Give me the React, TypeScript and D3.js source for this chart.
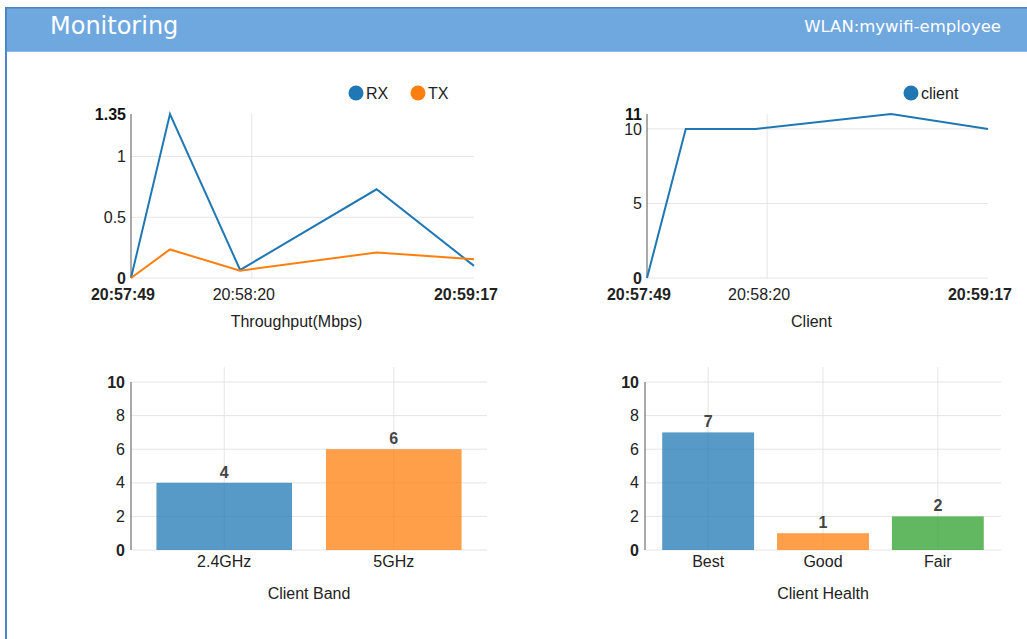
import React from "react";
import * as d3 from "d3";

// sample times (HH:MM:SS)
const times = ["20:57:49", "20:57:59", "20:58:17", "20:58:52", "20:59:17"];
const rxValues = [0, 1.35, 0.066, 0.73, 0.1];
const txValues = [0, 0.235, 0.06, 0.21, 0.155];
const clientValues = [0, 10, 10, 11, 10];

const bandCategories = ["2.4GHz", "5GHz"];
const bandValues = [4, 6];
const healthCategories = ["Best", "Good", "Fair"];
const healthValues = [7, 1, 2];

const throughputTicks = [0, 0.5, 1];
const clientTicks = [0, 5, 10];
const barTicks = [0, 2, 4, 6, 8, 10];
const midTimeTick = "20:58:20";

const BLUE = "#1f77b4";
const ORANGE = "#ff7f0e";
const GREEN = "#2ca02c";
const GRID = "#e5e5e5";
const FONT = "'Liberation Sans', Arial, sans-serif";

const parseTime = d3.timeParse("%H:%M:%S");

type Series = { name: string; color: string; values: number[] };

function LineChart({
  x0, x1, yTop, yBottom, series, ticks, maxLabel, title, legendX,
}: {
  x0: number; x1: number; yTop: number; yBottom: number;
  series: Series[]; ticks: number[]; maxLabel: number; title: string; legendX: number[];
}) {
  const dates = times.map((t) => parseTime(t) as Date);
  const x = d3.scaleTime().domain(d3.extent(dates) as [Date, Date]).range([x0, x1]);
  const y = d3.scaleLinear().domain([0, maxLabel]).range([yBottom, yTop]);
  const mid = parseTime(midTimeTick) as Date;
  const line = d3
    .line<number>()
    .x((_, i) => x(dates[i]))
    .y((d) => y(d));

  return (
    <g fontFamily={FONT}>
      {/* grid */}
      {ticks.map((t) => (
        <line key={t} x1={x0} x2={x1} y1={y(t)} y2={y(t)} stroke={GRID} />
      ))}
      <line x1={x(mid)} x2={x(mid)} y1={yTop} y2={yBottom} stroke={GRID} />
      {/* y axis */}
      <line x1={x0} x2={x0} y1={yTop} y2={yBottom} stroke="#555" />
      {ticks.map((t) => (
        <text key={t} x={x0 - 5} y={y(t)} dy="0.35em" textAnchor="end" fontSize={16}
          fill="#222" fontWeight={t === 0 ? 700 : 400}>
          {d3.format("~g")(t)}
        </text>
      ))}
      <text x={x0 - 5} y={y(maxLabel)} dy="0.35em" textAnchor="end" fontSize={16}
        fill="#111" fontWeight={700}>
        {maxLabel}
      </text>
      {/* x axis labels */}
      {[
        { d: dates[0], bold: true, label: times[0] },
        { d: mid, bold: false, label: midTimeTick },
        { d: dates[dates.length - 1], bold: true, label: times[times.length - 1] },
      ].map((t) => (
        <text key={t.label} x={x(t.d) - 8} y={yBottom + 22} textAnchor="middle" fontSize={16}
          fill="#222" fontWeight={t.bold ? 700 : 400}>
          {t.label}
        </text>
      ))}
      <text x={(x0 + x1) / 2 - 6} y={yBottom + 49} textAnchor="middle" fontSize={16} fill="#222">
        {title}
      </text>
      {/* lines */}
      {series.map((s) => (
        <path key={s.name} d={line(s.values) || ""} fill="none" stroke={s.color} strokeWidth={2} />
      ))}
      {/* legend */}
      {series.map((s, i) => (
        <g key={s.name} transform={`translate(${legendX[i]},93)`}>
          <circle r={7.5} fill={s.color} />
          <text x={10} dy="0.35em" fontSize={16} fill="#222">{s.name}</text>
        </g>
      ))}
    </g>
  );
}

function BarChart({
  x0, x1, categories, values, colors, title,
}: {
  x0: number; x1: number; categories: string[]; values: number[]; colors: string[]; title: string;
}) {
  const yTop = 382;
  const yBottom = 550;
  const x = d3.scaleBand().domain(categories).range([x0, x1]).paddingInner(0.2).paddingOuter(0.15);
  const y = d3.scaleLinear().domain([0, 10]).range([yBottom, yTop]);
  const cx = (c: string) => (x(c) as number) + x.bandwidth() / 2;
  return (
    <g fontFamily={FONT}>
      {barTicks.map((t) => (
        <line key={t} x1={x0} x2={x1} y1={y(t)} y2={y(t)} stroke={GRID} />
      ))}
      {categories.map((c) => (
        <line key={c} x1={cx(c)} x2={cx(c)} y1={yTop - 15} y2={yBottom} stroke={GRID} />
      ))}
      {categories.map((c, i) => (
        <rect key={c} x={x(c)} y={y(values[i])} width={x.bandwidth()} height={yBottom - y(values[i])}
          fill={colors[i]} fillOpacity={0.75} />
      ))}
      {categories.map((c, i) => (
        <text key={c} x={cx(c)} y={y(values[i]) - 5} textAnchor="middle"
          fontSize={16} fontWeight={700} fill="#444">
          {values[i]}
        </text>
      ))}
      <line x1={x0} x2={x0} y1={yTop} y2={yBottom} stroke="#555" />
      {barTicks.map((t) => (
        <text key={t} x={x0 - 6} y={y(t)} dy="0.35em" textAnchor="end" fontSize={16} fill="#222"
          fontWeight={t === 0 || t === 10 ? 700 : 400}>
          {t}
        </text>
      ))}
      {categories.map((c) => (
        <text key={c} x={cx(c)} y={yBottom + 17} textAnchor="middle" fontSize={16} fill="#222">
          {c}
        </text>
      ))}
      <text x={(x0 + x1) / 2} y={yBottom + 49} textAnchor="middle" fontSize={16} fill="#222">
        {title}
      </text>
    </g>
  );
}

export default function App() {
  return (
    <svg width={1027} height={639} style={{ position: "absolute", left: 0, top: 0, background: "#fff" }}>
      {/* frame + header */}
      <rect x={5} y={7} width={2} height={632} fill="#4a86cc" />
      <rect x={7} y={8} width={1020} height={44} fill="#6fa7df" />
      <rect x={5} y={7} width={1022} height={1.5} fill="#4f83bf" />
      <rect x={7} y={51} width={1020} height={1} fill="#8fbbe8" />
      <text x={50} y={34} fontFamily="'DejaVu Sans', Verdana, sans-serif" fontSize={24} fill="#fff">
        Monitoring
      </text>
      <text x={1001} y={32} textAnchor="end" fontFamily="'DejaVu Sans', Verdana, sans-serif" fontSize={16.5}
        fill="#fff">
        WLAN:mywifi-employee
      </text>

      <LineChart x0={131} x1={474} yTop={114} yBottom={278}
        series={[{ name: "RX", color: BLUE, values: rxValues }, { name: "TX", color: ORANGE, values: txValues }]}
        ticks={throughputTicks} maxLabel={1.35} title="Throughput(Mbps)" legendX={[356, 418]} />
      <LineChart x0={647} x1={988} yTop={114} yBottom={278}
        series={[{ name: "client", color: BLUE, values: clientValues }]}
        ticks={clientTicks} maxLabel={11} title="Client" legendX={[911]} />

      <BarChart x0={131} x1={487} categories={bandCategories} values={bandValues}
        colors={[BLUE, ORANGE]} title="Client Band" />
      <BarChart x0={645} x1={1001} categories={healthCategories} values={healthValues}
        colors={[BLUE, ORANGE, GREEN]} title="Client Health" />
    </svg>
  );
}
